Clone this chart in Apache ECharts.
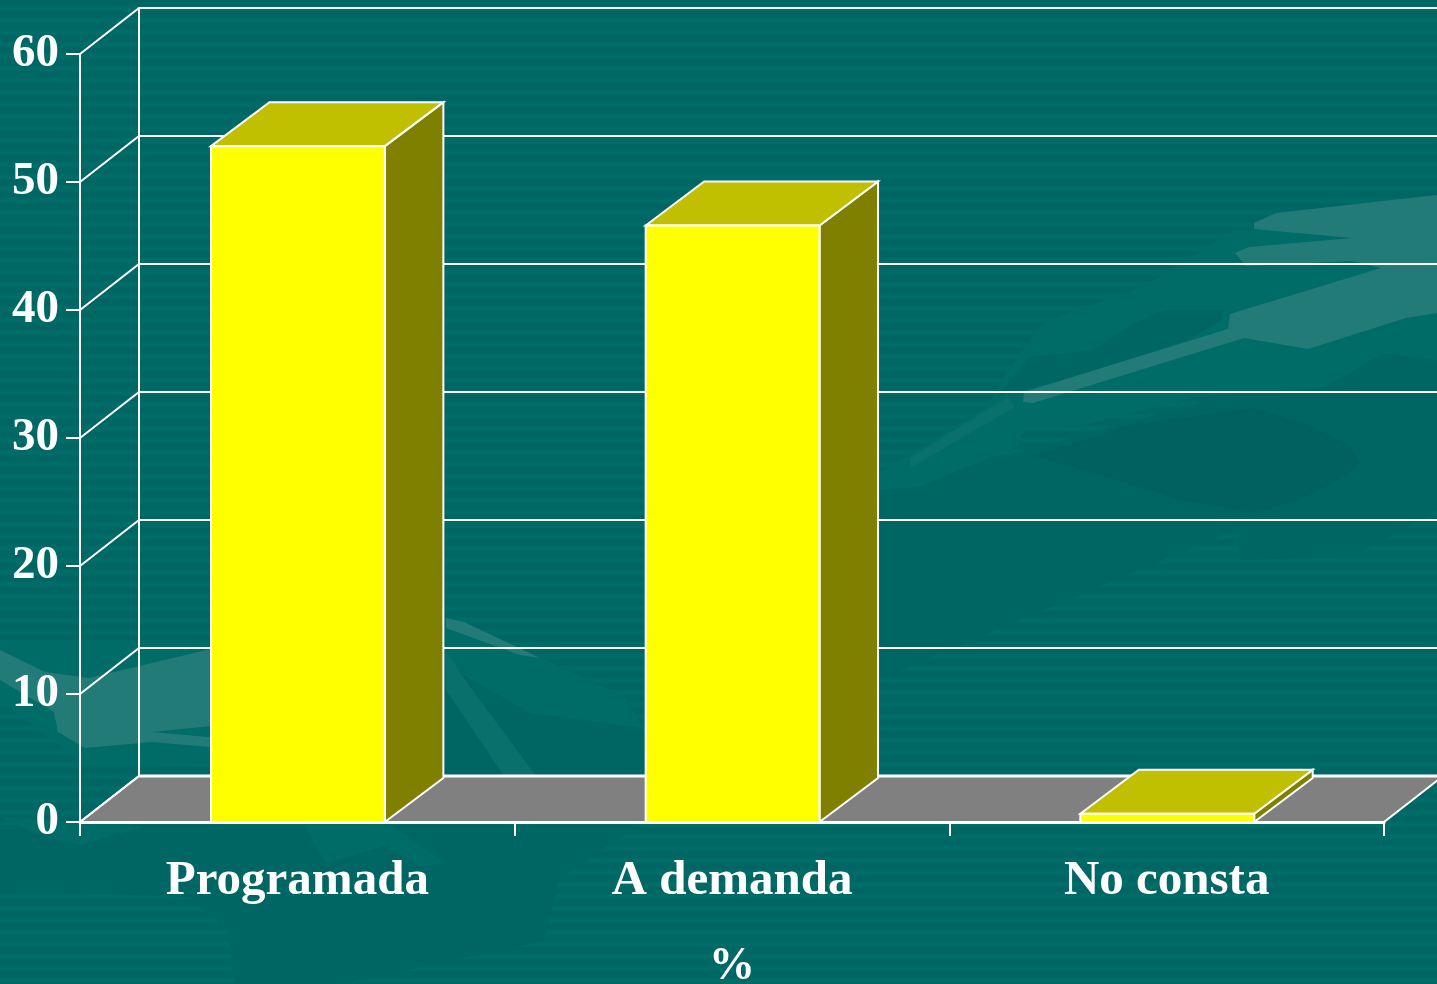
<!DOCTYPE html>
<html>
<head>
<meta charset="utf-8">
<style>
html,body{margin:0;padding:0;width:1437px;height:984px;overflow:hidden;
background:repeating-linear-gradient(180deg,#006664 0px,#006664 5px,#006c68 7px,#006c68 10px,#006664 12px);}
#c{width:1437px;height:984px;}
</style>
<script src="https://cdn.jsdelivr.net/npm/echarts@6/dist/echarts.min.js"></script>
</head>
<body>
<div id="c"></div>
<script>
const categories = ['Programada', 'A demanda', 'No consta'];
const percentValues = [52.8, 46.6, 0.65];
const yTicks = [0, 10, 20, 30, 40, 50, 60];
const axisName = '%';

const DEPTH_X = 59, DEPTH_Y = -46;
const BAR_DEPTH_X = 58.5, BAR_DEPTH_Y = -44;
const WHITE = '#ffffff';
const FONT = '"Liberation Serif", serif';

// Faint backdrop artwork of the slide (not data)
const MID = '#006c68', FLAT = '#006664', DEEP = '#006260', LEAF = '#237b77', SOFT = '#0a706c';
const backdrop = [
  [FLAT, [[877,680],[1239,528],[1239,560],[1352,557],[1437,510],[1437,360],[1384,353],[880,490]]],
  [MID, [[880,473],[987,407],[1011,367],[1040,327],[1058,317],[1143,287],[1235,230],[1437,230],[1437,360],[1384,353],[1324,387],[1193,397],[1157,407],[1082,425],[1026,427],[1017,447],[979,462],[919,487],[880,490]]],
  [DEEP, [[1030,455],[1068,445],[1130,425],[1253,408],[1310,425],[1350,445],[1360,463],[1340,480],[1300,500],[1253,513],[1180,500],[1100,475]]],
  [FLAT, [[997,397],[1029,357],[1093,350],[1130,325],[1164,310],[1223,310],[1221,320],[1193,337],[1100,370]]],
  [SOFT, [[910,458],[1008,397],[1015,407],[910,468]]],
  [LEAF, [[1437,195],[1276,213],[1254,223],[1254,229],[1352,238],[1249,247],[1235,253],[1246,266],[1352,261],[1381,268],[1230,314],[1228,329],[1024,392],[1023,402],[1033,403],[1244,338],[1308,349],[1406,318],[1437,313]]],
  [FLAT, [[0,825],[640,825],[600,850],[558,880],[545,940],[340,984],[235,984],[228,930],[190,897],[0,890]]],
  [MID, [[0,817],[40,835],[80,845],[143,827]]],
  [MID, [[303,823],[388,823],[446,863],[420,867],[388,845],[326,863]]],
  [FLAT, [[445,665],[531,713],[643,728],[650,778],[445,778]]],
  [MID, [[445,618],[536,655],[625,697],[643,728],[531,713],[445,665]]],
  [SOFT, [[446,650],[460,673],[536,776],[504,776],[446,690]]],
  [LEAF, [[446,618],[464,622],[540,658],[520,655],[446,628]]],
  [MID, [[0,640],[240,640],[240,760],[85,765],[0,700]]],
  [LEAF, [[0,650],[45,672],[89,678],[240,642],[240,747],[210,747],[152,742],[85,748],[58,732],[54,712],[0,680]]],
  [MID, [[240,723],[152,732],[240,740]]]
];

const chart = echarts.init(document.getElementById('c'), null, {renderer: 'canvas'});

function floorItem(params, api) {
  const cs = params.coordSys;
  const y0 = api.coord([0, 0])[1];
  const yTop = api.coord([0, yTicks[yTicks.length - 1]])[1];
  const x0 = cs.x, x1 = cs.x + cs.width;
  return {
    type: 'group',
    children: [
      {type: 'polygon', shape: {points: [[x0, y0], [x0 + DEPTH_X, y0 + DEPTH_Y], [x1 + DEPTH_X, y0 + DEPTH_Y], [x1, y0]]},
        style: {fill: '#808080', stroke: WHITE, lineWidth: 2}},
      {type: 'line', shape: {x1: x0 + DEPTH_X, y1: y0 + DEPTH_Y, x2: x1 + DEPTH_X, y2: y0 + DEPTH_Y},
        style: {stroke: WHITE, lineWidth: 3}},
      {type: 'line', shape: {x1: x0 + DEPTH_X, y1: y0 + DEPTH_Y, x2: x0 + DEPTH_X, y2: yTop + DEPTH_Y},
        style: {stroke: WHITE, lineWidth: 2}}
    ]
  };
}

function wallItem(params, api) {
  const cs = params.coordSys;
  const y = api.coord([0, api.value(1)])[1];
  return {
    type: 'polyline',
    shape: {points: [[cs.x, y], [cs.x + DEPTH_X, y + DEPTH_Y], [cs.x + cs.width + DEPTH_X, y + DEPTH_Y]]},
    style: {fill: 'none', stroke: WHITE, lineWidth: 2}
  };
}

function barItem(params, api) {
  const base = api.coord([api.value(0), 0]);
  const top = api.coord([api.value(0), api.value(1)]);
  const w = api.size([1, 0])[0] * 0.4;
  const l = base[0] - w / 2 + 0.6, r = base[0] + w / 2 + 0.6;
  const line = {stroke: WHITE, lineWidth: 2, lineJoin: 'miter'};
  return {
    type: 'group',
    children: [
      {type: 'polygon', shape: {points: [[r, base[1]], [r + BAR_DEPTH_X, base[1] + BAR_DEPTH_Y], [r + BAR_DEPTH_X, top[1] + BAR_DEPTH_Y], [r, top[1]]]},
        style: Object.assign({fill: '#808000'}, line)},
      {type: 'polygon', shape: {points: [[l, top[1]], [l + BAR_DEPTH_X, top[1] + BAR_DEPTH_Y], [r + BAR_DEPTH_X, top[1] + BAR_DEPTH_Y], [r, top[1]]]},
        style: Object.assign({fill: '#c0c000'}, line)},
      {type: 'polygon', shape: {points: [[l, base[1]], [l, top[1]], [r, top[1]], [r, base[1]]]},
        style: Object.assign({fill: '#ffff00'}, line)}
    ]
  };
}

chart.setOption({
  animation: false,
  backgroundColor: 'transparent',
  graphic: backdrop.map(function (b) {
    return {type: 'polygon', silent: true, z: -10, shape: {points: b[1]}, style: {fill: b[0]}};
  }),
  grid: {left: 80, top: 54, width: 1304, height: 768, containLabel: false, outerBoundsMode: 'none'},
  xAxis: {
    type: 'category', data: categories, z: 5,
    name: axisName, nameLocation: 'middle', nameGap: 122,
    nameTextStyle: {color: WHITE, fontFamily: FONT, fontWeight: 'bold', fontSize: 46},
    axisLine: {lineStyle: {color: WHITE, width: 3}},
    axisTick: {show: true, alignWithLabel: false, length: 14, lineStyle: {color: WHITE, width: 2}},
    axisLabel: {color: WHITE, fontFamily: FONT, fontWeight: 'bold', fontSize: 49, margin: 35, interval: 0},
    splitLine: {show: false}
  },
  yAxis: {
    type: 'value', min: 0, max: 60, interval: 10, z: 5,
    axisLine: {show: true, lineStyle: {color: WHITE, width: 2}},
    axisTick: {show: true, length: 14, lineStyle: {color: WHITE, width: 2}},
    axisLabel: {color: WHITE, fontFamily: FONT, fontWeight: 'bold', fontSize: 47, margin: 21, padding: [4, 0, 0, 0],
      formatter: function (v) { return yTicks.indexOf(v) >= 0 ? String(v) : ''; }},
    splitLine: {show: false}
  },
  series: [
    {type: 'custom', name: 'floor', z: 1, clip: false, silent: true, renderItem: floorItem,
      data: [[0, 0]], encode: {x: 0, y: 1}},
    {type: 'custom', name: 'walls', z: 2, clip: false, silent: true, renderItem: wallItem,
      data: yTicks.map(function (v) { return [0, v]; }), encode: {x: 0, y: 1}},
    {type: 'custom', name: '%', z: 6, clip: false, renderItem: barItem,
      data: percentValues.map(function (v, i) { return [i, v]; }), encode: {x: 0, y: 1}}
  ]
});
</script>
</body>
</html>
